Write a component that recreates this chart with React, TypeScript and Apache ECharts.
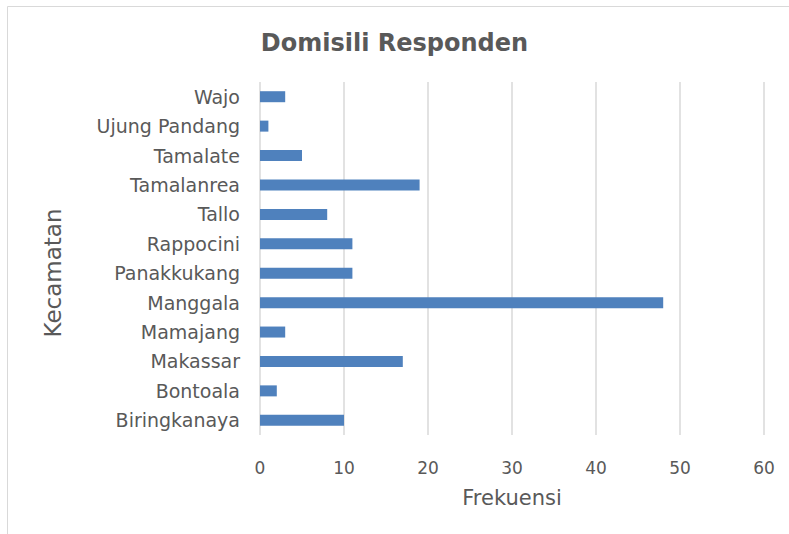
import React, { useEffect, useRef } from "react";
import * as echarts from "echarts";

const categories = [
  "Biringkanaya",
  "Bontoala",
  "Makassar",
  "Mamajang",
  "Manggala",
  "Panakkukang",
  "Rappocini",
  "Tallo",
  "Tamalanrea",
  "Tamalate",
  "Ujung Pandang",
  "Wajo",
];
const frekuensi = [10, 2, 17, 3, 48, 11, 11, 8, 19, 5, 1, 3];
const xTicks = { min: 0, max: 60, interval: 10 };
const yAxisTitle = "Kecamatan";

const TEXT = "#595959";
const FONT = "DejaVu Sans";

export default function App() {
  const ref = useRef<HTMLDivElement>(null);
  useEffect(() => {
    if (!ref.current) return;
    const chart = echarts.init(ref.current, undefined, { renderer: "svg" });
    chart.setOption({
      animation: false,
      backgroundColor: "#ffffff",
      title: {
        text: "Domisili Responden",
        left: "center",
        top: 26,
        textStyle: { color: TEXT, fontFamily: FONT, fontSize: 24, fontWeight: "bold" },
      },
      graphic: [
        {
          type: "rect",
          shape: { x: 7.5, y: 6.5, width: 900, height: 700 },
          style: { fill: "none", stroke: "#d9d9d9", lineWidth: 1 },
          silent: true,
          z: -1,
        },
        {
          type: "text",
          x: 53,
          y: 273,
          rotation: Math.PI / 2,
          style: {
            text: yAxisTitle,
            fill: TEXT,
            font: `23px "${FONT}"`,
            align: "center",
            verticalAlign: "middle",
          },
          silent: true,
        },
      ],
      grid: { left: 260, right: 25, top: 82, bottom: 99, containLabel: false },
      xAxis: {
        type: "value",
        min: xTicks.min,
        max: xTicks.max,
        interval: xTicks.interval,
        name: "Frekuensi",
        nameLocation: "middle",
        nameGap: 52,
        nameTextStyle: { color: TEXT, fontFamily: FONT, fontSize: 21 },
        axisLine: { show: false },
        axisTick: { show: false },
        axisLabel: { color: TEXT, fontFamily: FONT, fontSize: 17, margin: 24 },
        splitLine: { show: true, lineStyle: { color: "#d9d9d9", width: 1.5 } },
      },
      yAxis: {
        type: "category",
        data: categories,
        axisLine: { show: false },
        axisTick: { show: false },
        axisLabel: { color: TEXT, fontFamily: FONT, fontSize: 19, margin: 20 },
        splitLine: { show: false },
      },
      series: [
        {
          type: "bar",
          data: frekuensi,
          barWidth: 11,
          itemStyle: { color: "#4f81bd" },
        },
      ],
    });
    return () => chart.dispose();
  }, []);
  return (
    <div
      ref={ref}
      style={{ position: "fixed", left: 0, top: 0, width: 789, height: 534 }}
    />
  );
}
